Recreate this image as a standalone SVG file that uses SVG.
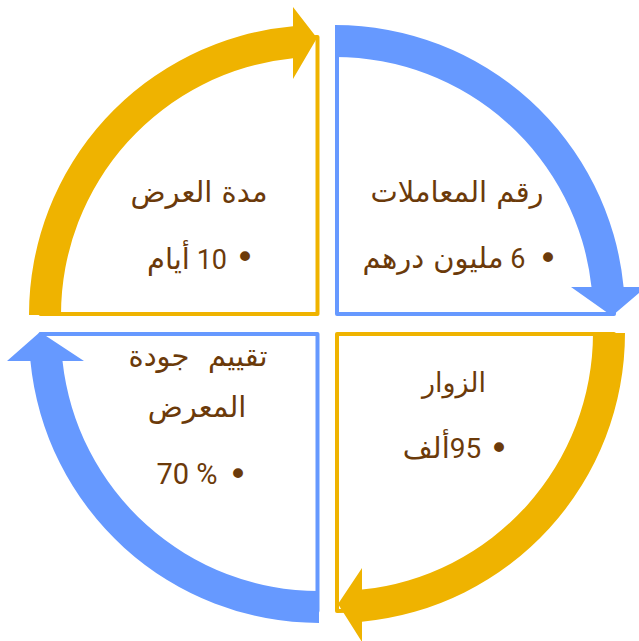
<svg xmlns="http://www.w3.org/2000/svg" width="639" height="641" viewBox="0 0 639 641">
<style>
.bg{fill:#ffffff}
.og{fill:#ffffff;stroke:#EFB300;stroke-width:4;stroke-linejoin:round}
.ob{fill:#ffffff;stroke:#6699FF;stroke-width:4;stroke-linejoin:round}
.ag{fill:#EFB300}
.ab{fill:#6699FF}
.t{font-family:Roboto,"DejaVu Sans",sans-serif;font-size:26px;fill:#6B3A0A;text-anchor:middle}
.r{direction:rtl;unicode-bidi:embed}
.ar{font-family:"DejaVu Sans",sans-serif;font-size:29px}
.bu{font-family:"DejaVu Sans",sans-serif;font-size:34px;fill:#6B3A0A;text-anchor:middle}
</style>
<rect class="bg" x="0" y="0" width="639" height="641"/>
<g id="node-duration">
<path class="og" d="M40.5,314 A277,277 0 0 1 317.5,37 L317.5,314 Z"/>
<text class="t r ar" x="199" y="202">مدة العرض</text>
<text class="bu" x="245" y="269">•</text>
<text class="t r" x="187" y="269" style="font-size:27px">10 <tspan class="ar">أيام</tspan></text>
</g>
<g id="node-transactions">
<path class="ob" d="M337,314 L337,37 A277,277 0 0 1 614,314 Z"/>
<text class="t r ar" x="457" y="202">رقم المعاملات</text>
<text class="bu" x="548" y="270">•</text>
<text class="t r" x="444" y="268" style="font-size:27px">6 <tspan class="ar">مليون درهم</tspan></text>
</g>
<g id="node-visitors">
<path class="og" d="M337,334 L614,334 A277,277 0 0 1 337,611 Z"/>
<text class="t r ar" x="454" y="392" style="font-size:27px">الزوار</text>
<text class="bu" x="499" y="460">•</text>
<text class="t r" x="442" y="458" style="font-size:28px">95<tspan class="ar">ألف</tspan></text>
</g>
<g id="node-quality">
<path class="ob" d="M317.5,334 L317.5,611 A277,277 0 0 1 40.5,334 Z"/>
<text class="t r ar" x="198" y="366" xml:space="preserve" style="white-space:pre">تقييم  جودة</text>
<text class="t r ar" x="197" y="417">المعرض</text>
<text class="bu" x="238" y="486">•</text>
<text class="t" x="187" y="484" style="font-size:29px">70 %</text>
</g>
<g id="connectors">
<path class="ag" d="M29,315 A290,290 0 0 1 293,26.2 L293,7 L317,38 L293,79 L293,58.3 A258,258 0 0 0 61,315 Z"/>
<path class="ab" d="M335,25 A290,290 0 0 1 623.6,287 L646,287 L612,316 L571,287 L591.5,287 A258,258 0 0 0 335,57 Z"/>
<path class="ag" d="M625,333 A290,290 0 0 1 362,621.7 L362,642 L338,604 L362,568 L362,589.6 A258,258 0 0 0 593,333 Z"/>
<path class="ab" d="M319,623 A290,290 0 0 1 30.4,361 L7,361 L40,332 L84,361 L62.5,361 A258,258 0 0 0 319,591 Z"/>
</g>
</svg>
